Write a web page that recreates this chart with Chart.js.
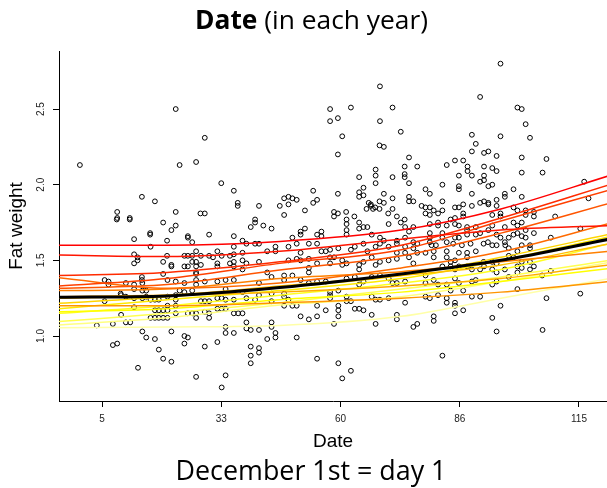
<!DOCTYPE html>
<html>
<head>
<meta charset="utf-8">
<script src="https://cdn.jsdelivr.net/npm/chart.js@4"></script>
<style>body{margin:0;background:#fff}</style>
</head>
<body>
<canvas id="chart" width="607" height="488"></canvas>
<script>
// observed fat weights: [day (Dec 1st = 1), fat weight]
const fatObs = [
  [22,2.50],[28.7,2.31],[-0.1,2.13],[22.9,2.13],[26.7,2.15],[32.5,2.01],[35.4,1.96],[36.3,1.88],[36.3,1.86],[14.2,1.92],
  [17.2,1.89],[8.5,1.82],[8.5,1.78],[11.4,1.78],[22,1.82],[27.7,1.81],[28.7,1.81],
  [69.1,2.65],[57.6,2.50],[62.4,2.51],[72,2.51],[57.6,2.42],[59.4,2.44],[69.1,2.42],[73.9,2.35],[60.4,2.32],[69,2.26],
  [70,2.25],[59.4,2.20],[75.8,2.18],[74.8,2.12],[77.7,2.12],[68.1,2.10],[68.1,2.06],[64.3,2.05],[72,2.05],[74.8,2.07],
  [74.8,2.05],[68.1,2.01],[75.8,2.01],[65.3,1.98],[64.3,1.95],[64.3,1.92],[65.3,1.93],[53.7,1.96],[59.4,1.94],[70,1.94],
  [75.8,1.92],[75.8,1.89],[76.8,1.89],[72,1.91],[47,1.91],[48,1.92],[48.9,1.91],[49.9,1.90],[53.7,1.88],[54.6,1.90],
  [41.2,1.86],[46,1.86],[48,1.87],[66,1.84],[67,1.87],[68,1.85],[67,1.86],[66.5,1.88],[67.5,1.84],[69,1.89],
  [70,1.88],[72,1.84],[69,1.84],[71,1.81],[73,1.79],[74.8,1.77],[47,1.80],[51.8,1.83],[58.5,1.82],[58.5,1.79],
  [59.4,1.81],[61.3,1.82],[63.2,1.79],[40.3,1.77],
  [96.9,2.80],[92.2,2.58],[100.8,2.51],[101.8,2.50],[102.7,2.40],[103.7,2.31],[90.3,2.33],[96.9,2.32],[91.2,2.27],[90.3,2.22],
  [93.1,2.21],[94.1,2.22],[96,2.19],[101.8,2.18],[107.5,2.17],[86.4,2.16],[88.3,2.16],[84.5,2.13],[89.3,2.12],[89.3,2.09],
  [93.1,2.12],[95,2.11],[96,2.09],[90.3,2.06],[87.3,2.06],[93.1,2.06],[93.1,2.03],[101.8,2.08],[106.6,2.08],[83.5,2.00],
  [87.3,1.99],[87.3,1.97],[95,2.00],[92.2,2.02],[94.1,1.99],[79.6,1.97],[80.6,1.94],[90.3,1.94],[97.9,1.94],[97.9,1.92],
  [101.8,1.92],[99.9,1.97],[116.2,2.02],[117.2,1.91],[83.5,1.89],[86.4,1.85],[87.3,1.85],[88.3,1.87],[90.3,1.86],[92.2,1.88],
  [93.1,1.89],[94.1,1.88],[94.1,1.87],[96,1.90],[96,1.86],[99.9,1.85],[100.8,1.83],[102.7,1.83],[104.6,1.82],[78.7,1.86],
  [79.6,1.85],[80.6,1.85],[81.5,1.83],[82.5,1.81],[83.5,1.83],[79.6,1.81],[80.6,1.80],[85.4,1.77],[86.4,1.78],[88.3,1.81],
  [88.3,1.79],[95,1.80],[96.9,1.81],[96.9,1.79],[102.7,1.80],[104.6,1.79],[109.5,1.79],
  [8.4,1.77],[11.4,1.77],[19.1,1.75],[22,1.73],[21,1.70],[16.1,1.68],[16.1,1.67],[24.8,1.66],[24.8,1.65],[29.7,1.67],
  [35.4,1.66],[12.4,1.64],[20,1.63],[16.2,1.59],[25.8,1.62],[35.4,1.59],[35.4,1.54],[12.4,1.54],[12.4,1.48],[13.2,1.52],
  [13.2,1.50],[19.1,1.49],[20,1.53],[21,1.47],[21,1.46],[24,1.53],[24.8,1.53],[25.8,1.53],[26.7,1.56],[27.8,1.53],
  [29.7,1.53],[30.6,1.52],[32.6,1.53],[34.5,1.53],[31.6,1.56],[24,1.46],[24.8,1.46],[25.8,1.49],[26.7,1.49],[26.7,1.46],
  [26.7,1.42],[26.7,1.41],[27.8,1.47],[31.6,1.48],[31.6,1.46],[34.5,1.48],[35.4,1.49],[35.4,1.46],[14.2,1.39],[14.2,1.37],
  [19.1,1.41],[5.6,1.37],[6.5,1.36],[6.5,1.34],[10.5,1.35],[12.4,1.34],[12.4,1.31],[15.2,1.30],[20.1,1.37],[22,1.36],
  [24,1.35],[26.7,1.37],[26.7,1.34],[28.7,1.36],[31.6,1.36],[33.5,1.37],[35.4,1.37],[5.6,1.23],[9.4,1.27],[12.4,1.25],
  [14.3,1.25],[15.2,1.26],[16.2,1.24],[17.2,1.24],[18.1,1.24],[20.1,1.26],[22,1.27],[22,1.24],[22.9,1.30],[24,1.29],
  [25.8,1.30],[27.8,1.23],[28.7,1.23],[29.7,1.23],[31.6,1.25],[32.6,1.25],[33.5,1.24],[33.5,1.31],[35.4,1.24],[17.2,1.17],
  [18.1,1.17],[19.1,1.17],[20.1,1.17],[20.1,1.20],[16.2,1.12],[17.2,1.12],[18.1,1.12],[19.1,1.12],[20.1,1.12],[22,1.20],
  [22,1.15],[24.8,1.15],[25.8,1.15],[26.7,1.12],[26.7,1.15],[28.7,1.16],[29.7,1.12],[29.7,1.15],[31.6,1.18],[32.6,1.18],
  [33.5,1.18],[35.4,1.15],[36.4,1.15],[10.5,1.09],[11.5,1.09],[3.8,1.07],[7.5,1.08],[9.4,1.14],[14.3,1.03],[15.2,0.99],
  [17.2,0.98],[21,1.03],[24,1.00],[24.8,0.99],[24,0.95],[28.7,0.93],[31.6,0.96],[33.5,1.06],[33.5,1.02],[35.4,1.02],
  [7.5,0.94],[8.5,0.95],[18.1,0.91],[19.1,0.85],[21,0.83],[13.3,0.79],[26.7,0.73],[33.5,0.74],[32.6,0.66],
  [14.3,1.35],[14.3,1.30],[9.3,1.28],[10.5,1.26],[12.4,1.19],
  [39.3,1.72],[40.3,1.75],[42.2,1.73],[44.1,1.71],[48.9,1.65],[50.8,1.69],[50.8,1.67],[51.8,1.71],[54.6,1.67],[55.6,1.69],
  [55.6,1.66],[61.4,1.77],[61.4,1.74],[61.4,1.70],[61.4,1.67],[64.3,1.75],[64.3,1.71],[65.3,1.72],[66.2,1.72],[71.1,1.74],
  [73.9,1.75],[74.9,1.72],[75.8,1.69],[76.8,1.72],[67.2,1.67],[69.1,1.65],[70,1.63],[73,1.63],[74.9,1.65],[76.8,1.62],
  [37.4,1.63],[38.3,1.61],[40.3,1.61],[41.2,1.61],[43.1,1.56],[45,1.56],[45,1.59],[48,1.59],[49.9,1.61],[50.8,1.55],
  [52.7,1.61],[54.6,1.61],[55.6,1.56],[56.6,1.56],[57.6,1.57],[58.5,1.52],[57.6,1.52],[59.5,1.58],[62.4,1.57],[63.3,1.59],
  [65.3,1.61],[66.2,1.56],[68.1,1.59],[69.1,1.61],[71.1,1.59],[73,1.61],[74.9,1.59],[76.8,1.58],[77.7,1.61],[37.4,1.55],
  [37.4,1.50],[37.4,1.44],[38.3,1.48],[41.2,1.49],[43.1,1.42],[48,1.50],[49.9,1.51],[50.8,1.50],[52.7,1.51],[52.7,1.45],
  [52.7,1.42],[54.6,1.48],[57.6,1.48],[60.4,1.50],[60.4,1.47],[61.4,1.48],[64.3,1.47],[64.3,1.44],[65.3,1.49],[67.2,1.52],
  [68.1,1.47],[69.1,1.49],[71.1,1.50],[73,1.55],[73,1.51],[74.9,1.55],[75.8,1.52],[76.8,1.48],[77.7,1.55],[41.2,1.35],
  [44.1,1.39],[47,1.40],[48.9,1.40],[47,1.37],[50.8,1.37],[52.7,1.35],[54.6,1.36],[56.6,1.36],[57.6,1.29],[59.5,1.30],
  [61.4,1.38],[63.3,1.39],[64.3,1.34],[65.3,1.36],[67.2,1.39],[69.1,1.40],[71.1,1.38],[72,1.35],[73,1.35],[74.9,1.36],
  [37.4,1.29],[38.3,1.25],[40.3,1.24],[41.2,1.27],[44.1,1.28],[44.1,1.23],[47,1.28],[47,1.26],[48,1.24],[48.9,1.20],
  [49.9,1.20],[47,1.20],[54.6,1.20],[56.6,1.17],[57.6,1.25],[57.6,1.27],[59.5,1.20],[59.5,1.17],[59.5,1.13],[61.4,1.26],
  [61.4,1.23],[62.4,1.23],[63.3,1.18],[64.3,1.18],[65.3,1.17],[67.2,1.26],[68.1,1.24],[69.1,1.24],[71.1,1.25],[67.2,1.14],
  [68.1,1.08],[73,1.14],[73,1.11],[74.9,1.22],[76.8,1.06],[77.7,1.08],[37.4,1.15],[38.3,1.09],[38.3,1.05],[39.3,1.04],
  [41.2,1.04],[44.1,1.09],[44.1,1.06],[45,1.02],[45,0.99],[43.1,0.98],[49.9,0.99],[50.8,1.13],[52.7,1.11],[54.6,1.13],
  [58.5,1.08],[39.3,0.93],[39.3,0.87],[39.3,0.82],[41.2,0.92],[41.2,0.89],[54.6,0.85],[59.5,0.82],[62.4,0.77],[60.4,0.72],
  [80.6,1.74],[82.5,1.75],[82.5,1.73],[84.5,1.73],[86.4,1.74],[87.3,1.73],[89.2,1.72],[89.2,1.70],[91.2,1.72],[94.1,1.70],
  [95,1.73],[97.9,1.72],[99.9,1.75],[100.8,1.73],[101.8,1.75],[102.7,1.70],[104.6,1.68],[108.5,1.65],[80.6,1.68],[80.6,1.65],
  [80.6,1.62],[83.5,1.68],[83.5,1.65],[84.5,1.62],[86.4,1.65],[87.3,1.65],[89.2,1.67],[91.2,1.67],[92.2,1.68],[96,1.67],
  [96.9,1.65],[97.9,1.62],[98.8,1.65],[99.9,1.67],[100.8,1.68],[101.8,1.66],[102.7,1.65],[115.3,1.71],[81,1.60],[82,1.60],
  [86,1.61],[88,1.60],[90,1.61],[93,1.61],[94,1.62],[95,1.60],[96,1.60],[98,1.60],[98.8,1.58],[101.8,1.60],
  [103.7,1.60],[103.7,1.58],[79.6,1.55],[81.5,1.56],[81.5,1.52],[84.5,1.56],[84.5,1.52],[86.4,1.50],[85.4,1.49],[87.3,1.55],
  [89.2,1.55],[89.2,1.52],[91.2,1.56],[93,1.49],[95,1.49],[96,1.48],[98.8,1.53],[99.9,1.52],[100.8,1.56],[101.8,1.49],
  [103.7,1.49],[104.6,1.46],[83.5,1.46],[85.4,1.46],[86.4,1.44],[87.3,1.46],[89.2,1.46],[90.3,1.44],[92.2,1.44],[93.1,1.46],
  [95,1.44],[96,1.42],[97.9,1.44],[100.8,1.46],[100.8,1.42],[101.8,1.45],[103.7,1.44],[106.5,1.40],[108.5,1.43],[79.6,1.40],
  [79.6,1.35],[81.5,1.37],[82.5,1.34],[84.5,1.34],[86.4,1.38],[87.3,1.35],[88.3,1.30],[90.3,1.36],[91.2,1.37],[95,1.34],
  [96,1.36],[98.8,1.39],[100.8,1.31],[79.6,1.26],[80.6,1.25],[82.5,1.27],[84.5,1.25],[84.5,1.22],[85.4,1.30],[86.4,1.22],
  [86.4,1.20],[86.4,1.15],[88.3,1.17],[90.3,1.26],[92.2,1.26],[96.9,1.20],[95,1.12],[96,1.03],[107.5,1.25],[106.6,1.04],
  [115.3,1.28],[81.5,1.13],[81.5,1.10],[83.5,0.87]
];

// fitted curves for each year and the overall fit, sampled at curveDays
const curveDays = [-5, 20, 46, 74, 97, 122];
const yearFits = [
  [1.600, 1.600, 1.625, 1.700, 1.840, 2.060],
  [1.535, 1.525, 1.560, 1.640, 1.700, 1.730],
  [1.400, 1.420, 1.490, 1.600, 1.780, 2.000],
  [1.330, 1.380, 1.480, 1.570, 1.760, 1.965],
  [1.315, 1.340, 1.436, 1.530, 1.680, 1.877],
  [1.385, 1.315, 1.350, 1.450, 1.557, 1.745],
  [1.300, 1.310, 1.380, 1.425, 1.490, 1.560],
  [1.200, 1.200, 1.220, 1.250, 1.290, 1.360],
  [1.260, 1.270, 1.290, 1.330, 1.380, 1.470],
  [1.250, 1.270, 1.330, 1.400, 1.470, 1.610],
  [1.216, 1.260, 1.320, 1.400, 1.520, 1.672],
  [1.180, 1.240, 1.300, 1.380, 1.500, 1.656],
  [1.160, 1.180, 1.240, 1.290, 1.360, 1.447],
  [1.150, 1.200, 1.270, 1.350, 1.440, 1.610],
  [1.095, 1.150, 1.220, 1.310, 1.390, 1.500],
  [1.073, 1.120, 1.205, 1.260, 1.360, 1.487],
  [1.055, 1.060, 1.070, 1.130, 1.250, 1.380]
];
const overallFit = [1.256, 1.265, 1.320, 1.410, 1.500, 1.640];

const xTickPos = [5, 32.5, 60, 87.5, 115];
const xTickLabels = ["5", "33", "60", "86", "115"];
const yTicks = [1.0, 1.5, 2.0, 2.5];

// heat palette, red -> yellow -> pale yellow
const heat = ["#FF0000","#FF1500","#FF2B00","#FF4000","#FF5500","#FF6A00","#FF8000","#FF9500","#FFAA00",
  "#FFBF00","#FFD500","#FFEA00","#FFFF00","#FFFF20","#FFFF50","#FFFF80","#FFFFA8"];

const toXY = (vals) => curveDays.map((d, i) => ({x: d, y: vals[i]}));

const datasets = [];
datasets.push({
  type: "line", data: toXY(overallFit), borderColor: "#000", borderWidth: 3,
  pointRadius: 0, cubicInterpolationMode: "monotone", order: 0
});
yearFits.forEach((f, k) => {
  datasets.push({
    type: "line", data: toXY(f), borderColor: heat[k], borderWidth: 1.5,
    pointRadius: 0, cubicInterpolationMode: "monotone", order: 1
  });
});
datasets.push({
  type: "scatter", data: fatObs.map(p => ({x: p[0], y: p[1]})),
  pointRadius: 2.4, borderColor: "#000", backgroundColor: "rgba(0,0,0,0)", borderWidth: 1, order: 2
});

// font size that makes a text fill the given width
function fitFont(ctx, text, weight, family, width) {
  ctx.font = weight + " 20px " + family;
  return 20 * width / ctx.measureText(text).width;
}

// title with bold first word, rotated y labels, note below
const extras = {
  id: "extras",
  afterDraw(chart) {
    const ctx = chart.ctx;
    const fam = "'Open Sans'";
    ctx.save();
    ctx.fillStyle = "#000";
    ctx.textBaseline = "alphabetic";

    ctx.font = "bold 20px " + fam;
    const b = ctx.measureText("Date").width;
    ctx.font = "normal 20px " + fam;
    const n = ctx.measureText(" (in each year)").width;
    const size = 20 * 233 / (b + n);
    const w1 = b * size / 20;
    const x0 = 311.5 - 233 / 2;
    ctx.font = "bold " + size + "px " + fam;
    ctx.fillText("Date", x0, 28.5);
    ctx.font = "normal " + size + "px " + fam;
    ctx.fillText(" (in each year)", x0 + w1, 28.5);

    ctx.textAlign = "center";
    const note = "December 1st = day 1";
    ctx.font = "normal " + fitFont(ctx, note, "normal", fam, 271) + "px " + fam;
    ctx.fillText(note, 311, 480);

    const ys = chart.scales.y;
    ctx.font = "10px 'Liberation Sans'";
    ctx.fillStyle = "#222";
    ctx.textBaseline = "middle";
    yTicks.forEach(v => {
      ctx.save();
      ctx.translate(41.5, ys.getPixelForValue(v));
      ctx.rotate(-Math.PI / 2);
      ctx.fillText(v.toFixed(1), 0, 0);
      ctx.restore();
    });
    ctx.restore();
  }
};

new Chart(document.getElementById("chart").getContext("2d"), {
  data: {datasets: datasets},
  plugins: [extras],
  options: {
    responsive: false,
    animation: false,
    layout: {autoPadding: false, padding: {top: 51, left: 0, right: 0, bottom: 0}},
    plugins: {legend: {display: false}, tooltip: {enabled: false}},
    scales: {
      x: {
        type: "linear", min: -4.92, max: 121.46,
        afterBuildTicks: s => { s.ticks = xTickPos.map(v => ({value: v})); },
        afterFit: s => { s.height = 87; s.paddingLeft = 0; s.paddingRight = 0; },
        ticks: {
          callback: (v, i) => xTickLabels[i], autoSkip: false, maxRotation: 0,
          font: {size: 10, family: "'Liberation Sans'"}, color: "#222", padding: 6
        },
        grid: {drawOnChartArea: false, drawTicks: true, tickLength: 6, color: "#000"},
        border: {color: "#000", width: 1},
        title: {display: true, text: "Date", color: "#000",
          font: {size: 19, family: "'Liberation Sans'"}, padding: {top: 0, bottom: 35}}
      },
      y: {
        type: "linear", min: 0.5704, max: 2.8837,
        afterBuildTicks: s => { s.ticks = yTicks.map(v => ({value: v})); },
        afterFit: s => { s.width = 59; s.paddingTop = 0; s.paddingBottom = 0; },
        ticks: {color: "rgba(0,0,0,0)", font: {size: 10}},
        grid: {drawOnChartArea: false, drawTicks: true, tickLength: 6, color: "#000"},
        border: {color: "#000", width: 1},
        title: {display: true, text: "Fat weight", color: "#000",
          font: {size: 19, family: "'Liberation Sans'"}, padding: {top: 5, bottom: 0}}
      }
    }
  }
});
</script>
</body>
</html>
